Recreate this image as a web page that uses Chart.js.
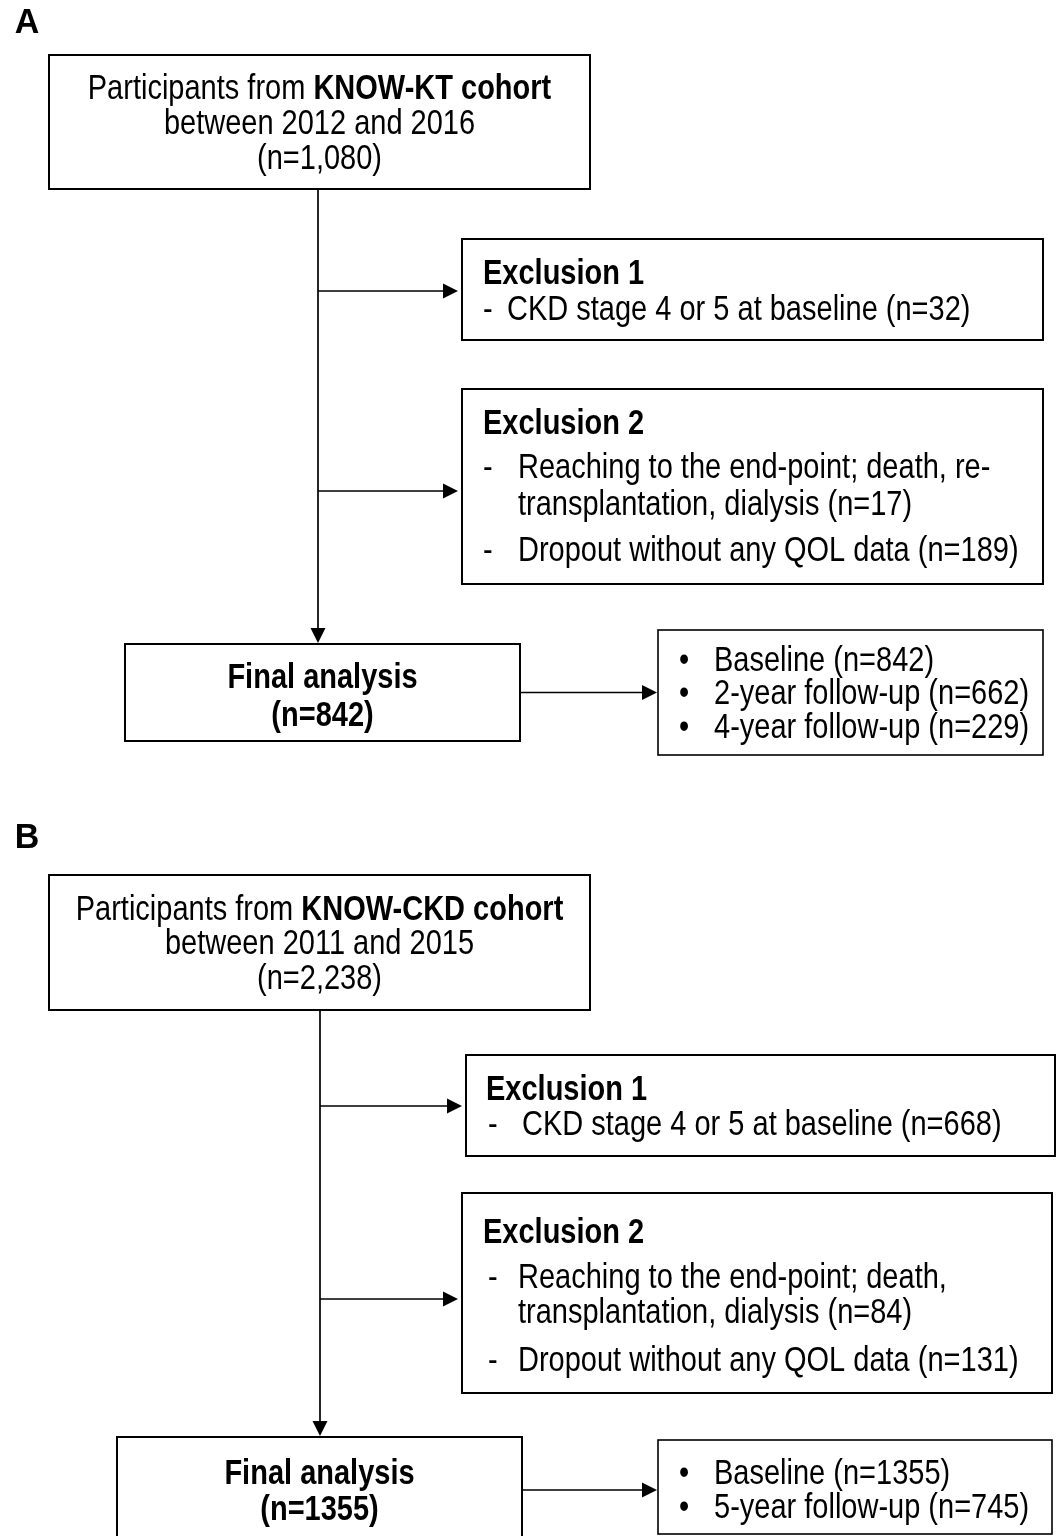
<!DOCTYPE html>
<html>
<head>
<meta charset="utf-8">
<script src="https://cdn.jsdelivr.net/npm/chart.js@4/dist/chart.umd.min.js"></script>
<style>
  html, body { margin: 0; padding: 0; background: #fff; }
  #flow { display: block; }
</style>
</head>
<body>
<canvas id="flow" width="1058" height="1536"></canvas>
<script>
// ---- data ----
const panelLabels = ['A', 'B'];
const cohortNames = ['KNOW-KT cohort', 'KNOW-CKD cohort'];
const cohortYears = ['between 2012 and 2016', 'between 2011 and 2015'];
const cohortN = ['1,080', '2,238'];
const excl1Text = ['CKD stage 4 or 5 at baseline (n=32)', 'CKD stage 4 or 5 at baseline (n=668)'];
const excl2Reach = [
    ['Reaching to the end-point; death, re-', 'transplantation, dialysis (n=17)'],
    ['Reaching to the end-point; death,', 'transplantation, dialysis (n=84)']
];
const excl2Drop = ['Dropout without any QOL data (n=189)', 'Dropout without any QOL data (n=131)'];
const finalN = ['842', '1355'];
const followUps = [
    ['Baseline (n=842)', '2-year follow-up (n=662)', '4-year follow-up (n=229)'],
    ['Baseline (n=1355)', '5-year follow-up (n=745)']
];

// ---- layout, in axis units (0..1058 across, 0..1536 down) ----
const layout = [
    {
        label: [27, 23],
        cohort: { box: [49, 55, 590, 189], lines: [88, 123, 158] },
        stem: { x: 318, y0: 189, y1: 643 },
        excl1: { box: [462, 239, 1043, 340], title: [483, 273], dash: 483, text: 507, y: 309, arrowY: 291 },
        excl2: { box: [462, 389, 1043, 584], title: [483, 423], dash: 483, text: 518, ys: [467, 504], dropY: 550, arrowY: 491 },
        final: { box: [125, 644, 520, 741], lines: [677, 715] },
        follow: { box: [658, 630, 1043, 755], bullet: 684, text: 714, ys: [660, 693, 727] }
    },
    {
        label: [27, 838],
        cohort: { box: [49, 875, 590, 1010], lines: [909, 943, 978] },
        stem: { x: 320, y0: 1010, y1: 1436 },
        excl1: { box: [466, 1055, 1055, 1156], title: [486, 1089], dash: 488, text: 522, y: 1124, arrowY: 1106 },
        excl2: { box: [462, 1193, 1052, 1393], title: [483, 1232], dash: 488, text: 518, ys: [1277, 1312], dropY: 1360, arrowY: 1299 },
        final: { box: [117, 1437, 522, 1560], lines: [1473, 1509] },
        follow: { box: [658, 1440, 1052, 1534], bullet: 684, text: 714, ys: [1473, 1507] }
    }
];

const FONT = '"Liberation Sans", Arial, Helvetica, sans-serif';
const FS = 29;
const SY = 1.18; // glyphs in the figure are a bit taller than wide
const DY = 2;    // 'middle' baseline sits a touch high

const flowPlugin = {
    id: 'flow',
    afterDraw(chart) {
        const c = chart.ctx;
        const X = v => chart.scales.x.getPixelForValue(v);
        const Y = v => chart.scales.y.getPixelForValue(v);

        function font(bold, size) {
            c.font = (bold ? 'bold ' : '') + (size || FS) + 'px ' + FONT;
        }
        function put(str, px, py, sy) {
            c.save();
            c.translate(px, py + DY);
            c.scale(1, sy || SY);
            c.fillText(str, 0, 0);
            c.restore();
        }
        function text(str, x, y, bold, align, size, sy) {
            font(bold, size);
            c.textAlign = align || 'left';
            c.textBaseline = 'middle';
            c.fillStyle = '#000';
            put(str, X(x), Y(y), sy);
        }
        function box(b, lw) {
            c.strokeStyle = '#000';
            c.lineWidth = lw || 2;
            c.strokeRect(X(b[0]), Y(b[1]), X(b[2]) - X(b[0]), Y(b[3]) - Y(b[1]));
        }
        function arrowH(x0, x1, y) {
            c.strokeStyle = '#000';
            c.lineWidth = 1.7;
            c.beginPath();
            c.moveTo(X(x0), Y(y));
            c.lineTo(X(x1) - 12, Y(y));
            c.stroke();
            c.fillStyle = '#000';
            c.beginPath();
            c.moveTo(X(x1), Y(y));
            c.lineTo(X(x1) - 15, Y(y) - 7.5);
            c.lineTo(X(x1) - 15, Y(y) + 7.5);
            c.closePath();
            c.fill();
        }
        function arrowV(x, y0, y1) {
            c.strokeStyle = '#000';
            c.lineWidth = 1.7;
            c.beginPath();
            c.moveTo(X(x), Y(y0));
            c.lineTo(X(x), Y(y1) - 12);
            c.stroke();
            c.fillStyle = '#000';
            c.beginPath();
            c.moveTo(X(x), Y(y1));
            c.lineTo(X(x) - 7.5, Y(y1) - 15);
            c.lineTo(X(x) + 7.5, Y(y1) - 15);
            c.closePath();
            c.fill();
        }

        c.save();
        layout.forEach((L, i) => {
            // panel letter
            text(panelLabels[i], L.label[0], L.label[1] - 2, true, 'center', 34, 1.02);

            // cohort box
            box(L.cohort.box);
            const cx = (L.cohort.box[0] + L.cohort.box[2]) / 2;
            const pre = 'Participants from ';
            font(false); const w1 = c.measureText(pre).width;
            font(true); const w2 = c.measureText(cohortNames[i]).width;
            const startPx = X(cx) - (w1 + w2) / 2;
            c.textAlign = 'left'; c.textBaseline = 'middle'; c.fillStyle = '#000';
            font(false); put(pre, startPx, Y(L.cohort.lines[0]));
            font(true); put(cohortNames[i], startPx + w1, Y(L.cohort.lines[0]));
            text(cohortYears[i], cx, L.cohort.lines[1], false, 'center');
            text('(n=' + cohortN[i] + ')', cx, L.cohort.lines[2], false, 'center');

            // main stem
            arrowV(L.stem.x, L.stem.y0, L.stem.y1);

            // exclusion 1
            box(L.excl1.box);
            arrowH(L.stem.x, L.excl1.box[0] - 4, L.excl1.arrowY);
            text('Exclusion 1', L.excl1.title[0], L.excl1.title[1], true);
            text('-', L.excl1.dash, L.excl1.y, false);
            text(excl1Text[i], L.excl1.text, L.excl1.y, false);

            // exclusion 2
            box(L.excl2.box);
            arrowH(L.stem.x, L.excl2.box[0] - 4, L.excl2.arrowY);
            text('Exclusion 2', L.excl2.title[0], L.excl2.title[1], true);
            text('-', L.excl2.dash, L.excl2.ys[0], false);
            excl2Reach[i].forEach((s, k) => text(s, L.excl2.text, L.excl2.ys[k], false));
            text('-', L.excl2.dash, L.excl2.dropY, false);
            text(excl2Drop[i], L.excl2.text, L.excl2.dropY, false);

            // final analysis
            box(L.final.box);
            const fx = (L.final.box[0] + L.final.box[2]) / 2;
            text('Final analysis', fx, L.final.lines[0], true, 'center');
            text('(n=' + finalN[i] + ')', fx, L.final.lines[1], true, 'center');
            arrowH(L.final.box[2], L.follow.box[0] - 1, (L.follow.ys[0] + L.follow.ys[L.follow.ys.length - 1]) / 2 + (i === 0 ? -1 : 0));

            // follow-up box
            box(L.follow.box, 1.6);
            followUps[i].forEach((s, k) => {
                text('\u2022', L.follow.bullet, L.follow.ys[k], false, 'center');
                text(s, L.follow.text, L.follow.ys[k], false);
            });
        });
        c.restore();
    }
};

new Chart(document.getElementById('flow'), {
    type: 'scatter',
    data: { datasets: [{ data: [], pointRadius: 0 }] },
    options: {
        responsive: false,
        animation: false,
        devicePixelRatio: 1,
        layout: { padding: 0 },
        plugins: { legend: { display: false }, tooltip: { enabled: false } },
        scales: {
            x: { type: 'linear', min: 0, max: 1058, display: false },
            y: { type: 'linear', min: 0, max: 1536, reverse: true, display: false }
        }
    },
    plugins: [flowPlugin]
});
</script>
</body>
</html>
